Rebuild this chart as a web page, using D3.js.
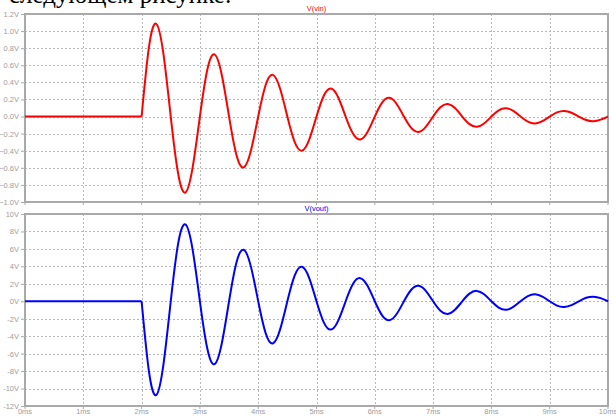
<!DOCTYPE html>
<html>
<head>
<meta charset="utf-8">
<script src="https://cdn.jsdelivr.net/npm/d3@7"></script>
<style>
  html, body { margin: 0; padding: 0; background: #fff; }
  svg { display: block; }
</style>
</head>
<body>
<svg id="chart" width="616" height="416"></svg>
<script>
// Time samples in ms (flat until the burst starts at 2 ms, then every 1/8 period)
const timeMs = [0, 2,
  2.125, 2.25, 2.375, 2.5, 2.625, 2.75, 2.875, 3,
  3.125, 3.25, 3.375, 3.5, 3.625, 3.75, 3.875, 4,
  4.125, 4.25, 4.375, 4.5, 4.625, 4.75, 4.875, 5,
  5.125, 5.25, 5.375, 5.5, 5.625, 5.75, 5.875, 6,
  6.125, 6.25, 6.375, 6.5, 6.625, 6.75, 6.875, 7,
  7.125, 7.25, 7.375, 7.5, 7.625, 7.75, 7.875, 8,
  8.125, 8.25, 8.375, 8.5, 8.625, 8.75, 8.875, 9,
  9.125, 9.25, 9.375, 9.5, 9.625, 9.75, 9.875, 10];

// Input voltage V(vin), volts
const vin = [0, 0,
  0.807, 1.086, 0.730, 0, -0.661, -0.889, -0.598, 0,
  0.541, 0.728, 0.489, 0, -0.443, -0.596, -0.401, 0,
  0.363, 0.488, 0.328, 0, -0.297, -0.399, -0.269, 0,
  0.243, 0.327, 0.220, 0, -0.199, -0.268, -0.180, 0,
  0.163, 0.219, 0.147, 0, -0.133, -0.180, -0.121, 0,
  0.109, 0.147, 0.099, 0, -0.089, -0.120, -0.081, 0,
  0.073, 0.098, 0.066, 0, -0.060, -0.081, -0.054, 0,
  0.049, 0.066, 0.044, 0, -0.040, -0.054, -0.036, 0];

// Output voltage V(vout), volts
const vout = [0, 0,
  -7.99, -10.75, -7.23, 0, 6.54, 8.80, 5.92, 0,
  -5.36, -7.21, -4.84, 0, 4.39, 5.90, 3.97, 0,
  -3.59, -4.83, -3.25, 0, 2.94, 3.95, 2.66, 0,
  -2.41, -3.24, -2.18, 0, 1.97, 2.65, 1.78, 0,
  -1.61, -2.17, -1.46, 0, 1.32, 1.78, 1.20, 0,
  -1.08, -1.46, -0.98, 0, 0.88, 1.19, 0.80, 0,
  -0.72, -0.98, -0.65, 0, 0.59, 0.80, 0.53, 0,
  -0.49, -0.65, -0.44, 0, 0.40, 0.53, 0.36, 0];

const timeTicks = [0, 1, 2, 3, 4, 5, 6, 7, 8, 9, 10];
const vinTicks = [1.2, 1.0, 0.8, 0.6, 0.4, 0.2, 0.0, -0.2, -0.4, -0.6, -0.8, -1.0];
const voutTicks = [10, 8, 6, 4, 2, 0, -2, -4, -6, -8, -10, -12];

const svg = d3.select("#chart");
const W = 616, H = 416;
svg.append("rect").attr("width", W).attr("height", H).attr("fill", "#fff");

// Caption line of the surrounding text, partly off the top edge
svg.append("text")
  .attr("x", 9).attr("y", 3)
  .attr("font-family", "'Liberation Serif', 'DejaVu Serif', serif")
  .attr("font-size", 25)
  .attr("fill", "#000")
  .text("следующем рисунке:");

const x = d3.scaleLinear().domain([0, 10]).range([25, 608]);

const frameColor = "#a9a9a9";
const gridColor = "#b8b8b8";
const labelColor = "#9c9c9c";
const labelFont = "'Liberation Sans', Arial, sans-serif";

function panel(cfg) {
  const y = d3.scaleLinear().domain(cfg.domain).range([cfg.bottom, cfg.top]);
  const g = svg.append("g");

  // dotted grid
  g.selectAll("line.h").data(cfg.ticks.filter(v => v !== cfg.domain[0] && v !== cfg.domain[1]))
    .join("line")
    .attr("class", "h")
    .attr("x1", x(0)).attr("x2", x(10))
    .attr("y1", d => Math.round(y(d)) + 0.5).attr("y2", d => Math.round(y(d)) + 0.5)
    .attr("stroke", gridColor).attr("stroke-width", 1).attr("stroke-dasharray", "2,2");
  g.selectAll("line.v").data(timeTicks.slice(1, -1))
    .join("line")
    .attr("class", "v")
    .attr("x1", d => Math.round(x(d)) + 0.5).attr("x2", d => Math.round(x(d)) + 0.5)
    .attr("y1", cfg.top).attr("y2", cfg.bottom)
    .attr("stroke", gridColor).attr("stroke-width", 1).attr("stroke-dasharray", "2,2");

  // y axis with tick labels
  const axis = d3.axisLeft(y).tickValues(cfg.ticks).tickFormat(cfg.fmt).tickSize(4).tickPadding(2);
  const ag = g.append("g").attr("transform", `translate(${x(0)},0)`).call(axis);
  ag.select(".domain").remove();
  ag.selectAll("line").attr("stroke", frameColor);
  ag.selectAll("text").attr("fill", labelColor).attr("font-size", 7.5).attr("font-family", labelFont);

  // frame
  g.append("rect")
    .attr("x", x(0)).attr("y", cfg.top)
    .attr("width", x(10) - x(0)).attr("height", cfg.bottom - cfg.top)
    .attr("fill", "none").attr("stroke", frameColor).attr("stroke-width", 2);

  // x tick marks at the bottom of the frame
  g.selectAll("line.xt").data(timeTicks)
    .join("line")
    .attr("class", "xt")
    .attr("x1", d => x(d)).attr("x2", d => x(d))
    .attr("y1", cfg.bottom).attr("y2", cfg.bottom + 3)
    .attr("stroke", frameColor);

  // trace: flat lead-in, then the ringing burst
  const pts = timeMs.map((t, i) => ({ t, v: cfg.values[i] }));
  const flat = pts.filter(p => p.t <= 2);
  const burst = pts.filter(p => p.t >= 2);
  g.append("path").datum(flat)
    .attr("d", d3.line().x(p => x(p.t)).y(p => y(p.v)))
    .attr("fill", "none").attr("stroke", cfg.color).attr("stroke-width", 2);
  g.append("path").datum(burst)
    .attr("d", d3.line().x(p => x(p.t)).y(p => y(p.v)).curve(d3.curveNatural))
    .attr("fill", "none").attr("stroke", cfg.color).attr("stroke-width", 2)
    .attr("stroke-linejoin", "round");

  // trace name
  g.append("text")
    .attr("x", (x(0) + x(10)) / 2).attr("y", cfg.top - 3)
    .attr("text-anchor", "middle")
    .attr("font-family", labelFont).attr("font-size", 7.5)
    .attr("fill", cfg.color)
    .text(cfg.name);
  return g;
}

panel({ domain: [-1.0, 1.2], top: 14, bottom: 202, ticks: vinTicks,
        fmt: d => d3.format(".1f")(d) + "V", values: vin, color: "#ff0000", name: "V(vin)" });
panel({ domain: [-12, 10], top: 214, bottom: 406, ticks: voutTicks,
        fmt: d => d + "V", values: vout, color: "#0000ff", name: "V(vout)" });

// time axis labels
svg.selectAll("text.xl").data(timeTicks)
  .join("text")
  .attr("class", "xl")
  .attr("x", d => x(d)).attr("y", 414)
  .attr("text-anchor", "middle")
  .attr("font-family", labelFont).attr("font-size", 7.5)
  .attr("fill", labelColor)
  .text(d => d + "ms");
</script>
</body>
</html>
